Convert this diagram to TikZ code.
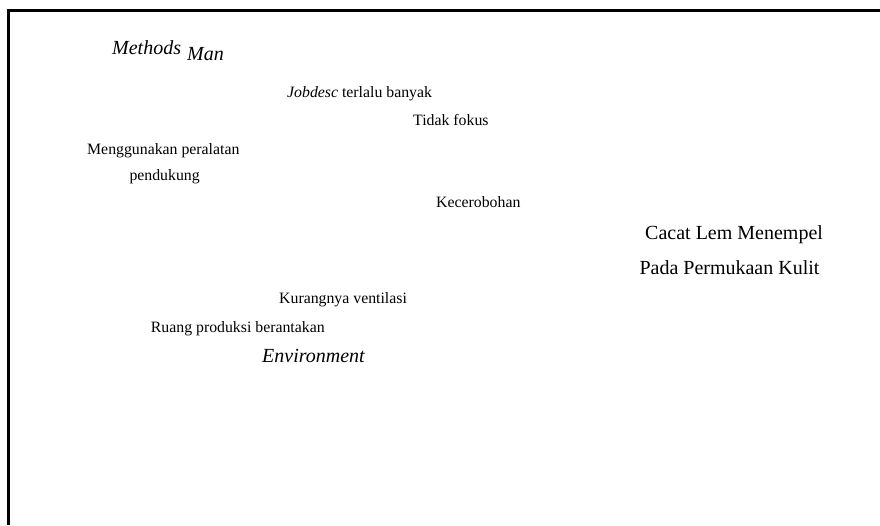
\documentclass[tikz,border=0pt]{standalone}
\usepackage{fontspec}
\setmainfont{Liberation Serif}
\begin{document}
\begin{tikzpicture}[x=1pt,y=-1pt,
  lbl/.style={anchor=base west,inner sep=0pt,font=\fontsize{15.8}{18}\selectfont},
  big/.style={anchor=base west,inner sep=0pt,font=\fontsize{20}{24}\selectfont},
  head/.style={anchor=base west,inner sep=0pt,font=\fontsize{20}{24}\selectfont\itshape},
  frame/.style={line width=3.3pt}]
\useasboundingbox (0,0) rectangle (880,525);
\coordinate (fb) at (8.3,525);
\coordinate (fc) at (8.3,10.5);
\coordinate (fr) at (880,10.5);
\draw[frame] (fb) -- (fc) -- (fr);
\node[head] (methods) at (112,54.3) {Methods};
\node[head] (man) at (187,60) {Man};
\node[lbl] (jobdesc) at (287,97.3) {\textit{Jobdesc} terlalu banyak};
\node[lbl] (tidak) at (413,125) {Tidak fokus};
\node[lbl] (meng) at (87,154) {Menggunakan peralatan};
\node[lbl] (pend) at (129.3,180) {pendukung};
\node[lbl] (kec) at (436,207.7) {Kecerobohan};
\node[big] (cacat) at (645,239.3) {Cacat Lem Menempel};
\node[big] (pada) at (639.3,274) {Pada Permukaan Kulit};
\node[lbl] (kur) at (279,303.3) {Kurangnya ventilasi};
\node[lbl] (ruang) at (150.7,332.3) {Ruang produksi berantakan};
\node[head] (env) at (262,362.7) {Environment};
\end{tikzpicture}
\end{document}
